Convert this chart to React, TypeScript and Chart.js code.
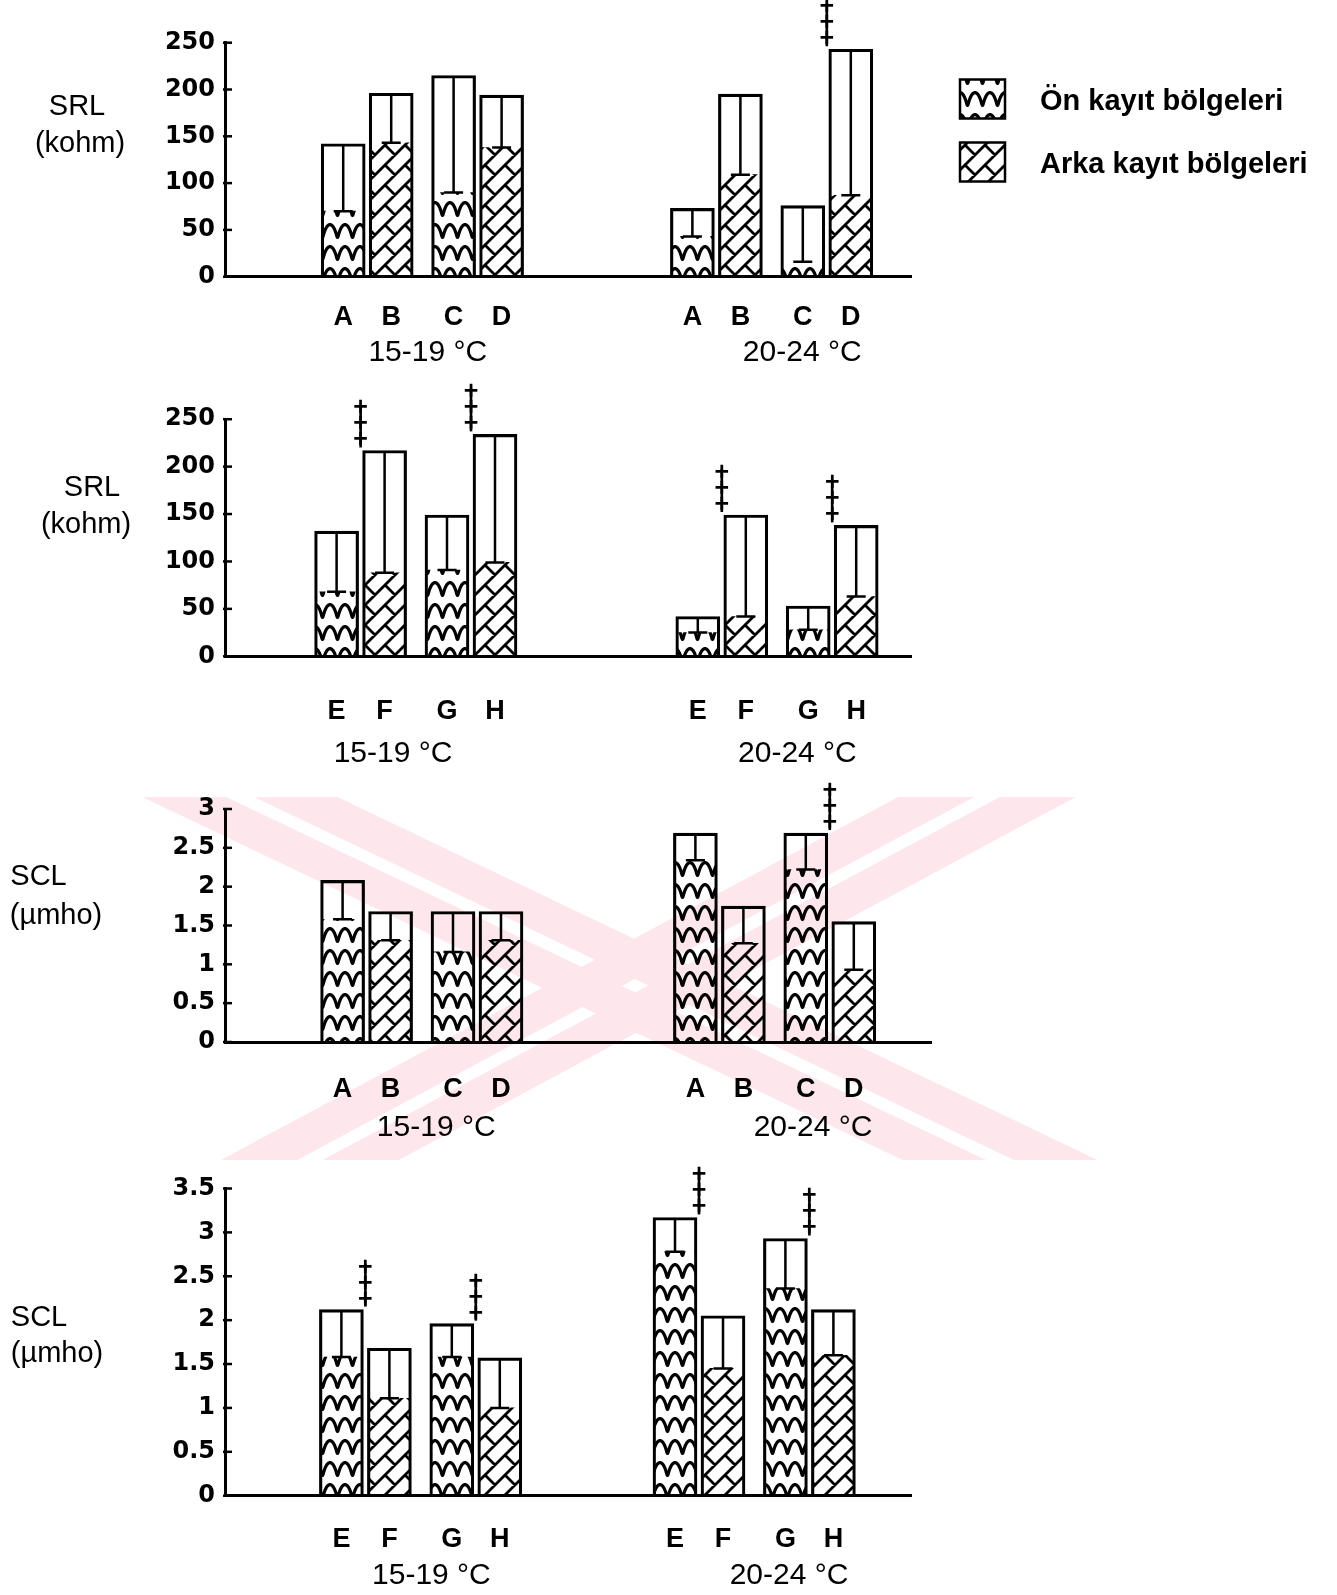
import React, { useEffect, useRef } from 'react';
import { Chart, registerables } from 'chart.js';

Chart.register(...registerables);

// ---- data -------------------------------------------------------------
const lettersAD = ['A', 'B', 'C', 'D'];
const lettersEH = ['E', 'F', 'G', 'H'];
const temperatureGroups = ['15-19 °C', '20-24 °C'];
const legendLabels = ['Ön kayıt bölgeleri', 'Arka kayıt bölgeleri'];

const srlTicks = [0, 50, 100, 150, 200, 250];
const sclTicks3 = [0, 0.5, 1, 1.5, 2, 2.5, 3];
const sclTicks35 = [0, 0.5, 1, 1.5, 2, 2.5, 3, 3.5];

// SRL (kohm), A–D: means and SD per temperature group
const srlAD_1519_mean = [142, 196, 215, 194];
const srlAD_1519_sd = [72, 53, 125, 56];
const srlAD_2024_mean = [73, 195, 76, 243];
const srlAD_2024_sd = [30, 86, 60, 156];
const srlAD_marked = [[], [3]];

// SRL (kohm), E–H
const srlEH_1519_mean = [132, 217, 149, 234];
const srlEH_1519_sd = [64, 129, 58, 135];
const srlEH_2024_mean = [42, 149, 53, 138];
const srlEH_2024_sd = [17, 107, 25, 75];
const srlEH_marked = [[1, 3], [1, 3]];

// SCL (µmho), A–D
const sclAD_1519_mean = [2.08, 1.68, 1.68, 1.68];
const sclAD_1519_sd = [0.5, 0.37, 0.52, 0.37];
const sclAD_2024_mean = [2.69, 1.75, 2.69, 1.55];
const sclAD_2024_sd = [0.35, 0.48, 0.47, 0.62];
const sclAD_marked = [[], [2]];

// SCL (µmho), E–H
const sclEH_1519_mean = [2.12, 1.68, 1.96, 1.57];
const sclEH_1519_sd = [0.54, 0.57, 0.38, 0.57];
const sclEH_2024_mean = [3.17, 2.05, 2.93, 2.12];
const sclEH_2024_sd = [0.39, 0.6, 0.57, 0.52];
const sclEH_marked = [[0, 2], [0, 2]];

// ---- layout -----------------------------------------------------------
const PAGE_W = 1337;
const PAGE_H = 1595;
const AXIS_LEFT = 225;
const SLOT_PX = 12;
const BAR_PX = 44;
const BAR_BORDER = 2.5;
const barOffsets = [0, 4, 9.2, 13.2];

const FONT = '"Liberation Sans", Arial, sans-serif';
const TICK_FONT = '"DejaVu Sans", sans-serif';
const LETTER_SIZE = 27;
const GROUP_SIZE = 30;

type PanelSpec = {
  bandTop: number;
  bandHeight: number;
  plotTop: number;
  plotBottom: number;
  plotRight: number;
  yMax: number;
  yTicks: number[];
  caption: string[];
  captionX: number[];
  captionY: number[];
  letters: string[];
  means: number[][];
  sds: number[][];
  marked: number[][];
  groupStarts: number[];
  groupLabelAt: number[];
  lettersOffset: number;
  groupOffset: number;
  legend?: boolean;
};

const panels: PanelSpec[] = [
  {
    bandTop: 0, bandHeight: 380, plotTop: 42.7, plotBottom: 276.7, plotRight: 911,
    yMax: 250, yTicks: srlTicks,
    caption: ['SRL', '(kohm)'], captionX: [77, 80], captionY: [107, 144],
    letters: lettersAD,
    means: [srlAD_1519_mean, srlAD_2024_mean], sds: [srlAD_1519_sd, srlAD_2024_sd], marked: srlAD_marked,
    groupStarts: [9.85, 38.95], groupLabelAt: [16.9, 48.1],
    lettersOffset: 41, groupOffset: 76, legend: true,
  },
  {
    bandTop: 380, bandHeight: 390, plotTop: 419.2, plotBottom: 656.3, plotRight: 911,
    yMax: 250, yTicks: srlTicks,
    caption: ['SRL', '(kohm)'], captionX: [92, 86], captionY: [488, 525],
    letters: lettersEH,
    means: [srlEH_1519_mean, srlEH_2024_mean], sds: [srlEH_1519_sd, srlEH_2024_sd], marked: srlEH_marked,
    groupStarts: [9.3, 39.4], groupLabelAt: [14.0, 47.7],
    lettersOffset: 55, groupOffset: 97,
  },
  {
    bandTop: 770, bandHeight: 380, plotTop: 809, plotBottom: 1042, plotRight: 931,
    yMax: 3, yTicks: sclTicks3,
    caption: ['SCL', '(µmho)'], captionX: [38.5, 56], captionY: [877, 916],
    letters: lettersAD,
    means: [sclAD_1519_mean, sclAD_2024_mean], sds: [sclAD_1519_sd, sclAD_2024_sd], marked: sclAD_marked,
    groupStarts: [9.8, 39.2], groupLabelAt: [17.6, 49.0],
    lettersOffset: 48, groupOffset: 86,
  },
  {
    bandTop: 1150, bandHeight: 445, plotTop: 1188.5, plotBottom: 1495.7, plotRight: 911,
    yMax: 3.5, yTicks: sclTicks35,
    caption: ['SCL', '(µmho)'], captionX: [39, 57], captionY: [1318, 1354],
    letters: lettersEH,
    means: [sclEH_1519_mean, sclEH_2024_mean], sds: [sclEH_1519_sd, sclEH_2024_sd], marked: sclEH_marked,
    groupStarts: [9.7, 37.5], groupLabelAt: [17.2, 47.0],
    lettersOffset: 44, groupOffset: 80,
  },
];

// ---- background mark (two crossed double stripes) -------------------
const MARK_COLOR = '#fde7ec';
const markArms = [
  { x1: 240, y1: 797, x2: 1000, y2: 1160 },
  { x1: 987, y1: 797, x2: 310, y2: 1160 },
];

function BackgroundMark() {
  const stripes: JSX.Element[] = [];
  markArms.forEach((a, i) => {
    const dx = a.x2 - a.x1;
    const dy = a.y2 - a.y1;
    const len = Math.hypot(dx, dy);
    const nx = -dy / len;
    const ny = dx / len;
    [-24, 24].forEach((off, j) => {
      const ext = 200;
      const ux = dx / len;
      const uy = dy / len;
      stripes.push(
        <line
          key={`${i}-${j}`}
          x1={a.x1 + nx * off - ux * ext}
          y1={a.y1 + ny * off - uy * ext}
          x2={a.x2 + nx * off + ux * ext}
          y2={a.y2 + ny * off + uy * ext}
          stroke={MARK_COLOR}
          strokeWidth={36}
        />
      );
    });
  });
  return (
    <svg width={PAGE_W} height={PAGE_H} style={{ position: 'absolute', left: 0, top: 0 }}>
      <defs>
        <clipPath id="markClip">
          <rect x={140} y={797} width={1000} height={363} />
        </clipPath>
      </defs>
      <g clipPath="url(#markClip)">{stripes}</g>
    </svg>
  );
}

// ---- fill patterns ----------------------------------------------------
function makeWavePattern(ctx: CanvasRenderingContext2D): CanvasPattern {
  const P = 15;
  const R = 22;
  const A = 6.4;
  const c = document.createElement('canvas');
  c.width = P;
  c.height = R;
  const g = c.getContext('2d')!;
  g.strokeStyle = '#000';
  g.lineWidth = 3.2;
  g.lineJoin = 'round';
  for (const dy of [-R, 0, R]) {
    g.beginPath();
    let first = true;
    for (let t = -P; t <= 2 * P; t += 0.25) {
      const th = (2 * Math.PI * t) / P;
      const x = t + 0.1 * P * Math.sin(th);
      const y = R / 2 + dy - A * Math.cos(th);
      if (first) { g.moveTo(x, y); first = false; } else g.lineTo(x, y);
    }
    g.stroke();
  }
  return ctx.createPattern(c, 'repeat')!;
}

function makeBrickPattern(ctx: CanvasRenderingContext2D): CanvasPattern {
  const T = 20;
  const c = document.createElement('canvas');
  c.width = T;
  c.height = T;
  const g = c.getContext('2d')!;
  g.strokeStyle = '#000';
  g.lineWidth = 2.8;
  g.lineCap = 'square';
  g.beginPath();
  for (const k of [-1, 0, 1, 2]) {
    const s = T / 2 + k * T;
    g.moveTo(s + T, -T);
    g.lineTo(s - 2 * T, 2 * T);
  }
  // short joints between neighbouring diagonals
  for (const ox of [-T, 0, T]) {
    for (const oy of [-T, 0, T]) {
      g.moveTo(T / 4 + ox, T / 4 + oy);
      g.lineTo((3 * T) / 4 + ox, (3 * T) / 4 + oy);
    }
  }
  g.stroke();
  return ctx.createPattern(c, 'repeat')!;
}

// ---- chart panel ------------------------------------------------------
function PanelChart({ spec }: { spec: PanelSpec }) {
  const ref = useRef<HTMLCanvasElement>(null);

  useEffect(() => {
    const canvas = ref.current!;
    const ctx = canvas.getContext('2d')!;
    const wave = makeWavePattern(ctx);
    const brick = makeBrickPattern(ctx);

    const xs: number[] = [];
    spec.groupStarts.forEach((g) => barOffsets.forEach((o) => xs.push(g + o)));
    const meanFlat = spec.means.flat();
    const sdFlat = spec.sds.flat();
    const letterFlat = spec.groupStarts.flatMap(() => spec.letters);
    const xMax = (spec.plotRight - AXIS_LEFT) / SLOT_PX;
    const plotTopLocal = spec.plotTop - spec.bandTop;
    const plotBottomLocal = spec.plotBottom - spec.bandTop;
    const lettersAxisH = spec.lettersOffset + 18;
    const groupAxisH = spec.bandHeight - plotBottomLocal - lettersAxisH;

    const extras = {
      id: 'panelExtras',
      afterDatasetsDraw(chart: any) {
        const c = chart.ctx as CanvasRenderingContext2D;
        const yScale = chart.scales.y;
        const meta = chart.getDatasetMeta(0);
        c.save();
        c.strokeStyle = '#000';
        c.lineWidth = 2.5;
        // error bars: from the mean down to mean − SD
        meta.data.forEach((bar: any, i: number) => {
          const yTop = yScale.getPixelForValue(meanFlat[i]);
          const yLow = yScale.getPixelForValue(meanFlat[i] - sdFlat[i]);
          c.beginPath();
          c.moveTo(bar.x, yTop + 1);
          c.lineTo(bar.x, yLow);
          c.moveTo(bar.x - 9.5, yLow);
          c.lineTo(bar.x + 9.5, yLow);
          c.stroke();
        });
        // significance markers between paired bars
        c.fillStyle = '#000';
        c.font = `bold 25px ${FONT}`;
        c.textAlign = 'center';
        c.textBaseline = 'middle';
        spec.marked.forEach((idxs, gi) => {
          idxs.forEach((bi) => {
            const k = gi * 4 + bi;
            const partner = bi % 2 === 0 ? k + 1 : k - 1;
            const bar = meta.data[k];
            const x = (bar.x + meta.data[partner].x) / 2;
            const top = yScale.getPixelForValue(meanFlat[k]);
            c.lineWidth = 2.6;
            c.beginPath();
            c.moveTo(x, top - 46);
            c.lineTo(x, top - 3);
            c.stroke();
            for (let m = 0; m < 3; m++) c.fillText('+', x, top - 10 - 16 * m);
          });
        });
        c.restore();
      },
      afterDraw(chart: any) {
        const c = chart.ctx as CanvasRenderingContext2D;
        const yScale = chart.scales.y;
        const left = chart.chartArea.left;
        c.save();
        c.strokeStyle = '#000';
        c.lineWidth = 2.5;
        // inward tick marks on the value axis
        yScale.ticks.forEach((t: any) => {
          const y = yScale.getPixelForValue(t.value);
          c.beginPath();
          c.moveTo(left - 2, y);
          c.lineTo(left + 7, y);
          c.stroke();
        });
        // axis caption
        c.fillStyle = '#000';
        c.font = `29px ${FONT}`;
        c.textAlign = 'center';
        c.textBaseline = 'middle';
        spec.caption.forEach((line, i) => {
          c.fillText(line, spec.captionX[i], spec.captionY[i] - spec.bandTop);
        });
        // legend
        if (spec.legend) {
          const boxes = [
            { y: 79.5, fill: wave },
            { y: 142.5, fill: brick },
          ];
          boxes.forEach((b, i) => {
            c.fillStyle = b.fill;
            c.fillRect(960, b.y, 45, 39);
            c.lineWidth = 2.5;
            c.strokeRect(960, b.y, 45, 39);
            c.fillStyle = '#000';
            c.font = `bold 29px ${FONT}`;
            c.textAlign = 'left';
            c.fillText(legendLabels[i], 1040, b.y + 22);
          });
        }
        c.restore();
      },
    };

    const chart = new Chart(canvas, {
      type: 'bar',
      data: {
        datasets: [
          {
            label: 'outline',
            data: xs.map((x, i) => ({ x, y: meanFlat[i] })),
            backgroundColor: 'rgba(0,0,0,0)',
            borderColor: '#000',
            borderWidth: BAR_BORDER,
            borderSkipped: 'start',
            barThickness: BAR_PX,
            grouped: false,
            order: 2,
          } as any,
          {
            label: 'fill',
            data: xs.map((x, i) => ({ x, y: meanFlat[i] - sdFlat[i] })),
            backgroundColor: xs.map((_, i) => (i % 2 === 0 ? wave : brick)),
            borderWidth: 0,
            barThickness: BAR_PX - 2 * BAR_BORDER,
            grouped: false,
            order: 1,
          } as any,
        ],
      },
      options: {
        responsive: false,
        animation: false,
        devicePixelRatio: 1,
        events: [],
        layout: {
          padding: { left: 0, top: plotTopLocal, right: PAGE_W - spec.plotRight, bottom: 0 },
        },
        plugins: { legend: { display: false }, tooltip: { enabled: false } },
        scales: {
          x: {
            type: 'linear',
            position: 'bottom',
            weight: 1,
            offset: false,
            min: 0,
            max: xMax,
            afterBuildTicks: (s: any) => { s.ticks = xs.map((v) => ({ value: v })); },
            afterFit: (s: any) => { s.height = lettersAxisH; },
            grid: { display: false, drawTicks: false },
            border: { display: true, color: '#000', width: 3 },
            ticks: {
              autoSkip: false,
              maxRotation: 0,
              color: '#000',
              padding: spec.lettersOffset - 0.6 * LETTER_SIZE,
              font: { family: FONT, size: LETTER_SIZE, weight: 'bold' },
              callback: (_v: any, i: number) => letterFlat[i],
            },
          },
          xGroup: {
            type: 'linear',
            position: 'bottom',
            weight: 2,
            offset: false,
            min: 0,
            max: xMax,
            afterBuildTicks: (s: any) => { s.ticks = spec.groupLabelAt.map((v) => ({ value: v })); },
            afterFit: (s: any) => { s.height = groupAxisH; },
            grid: { display: false, drawTicks: false },
            border: { display: false },
            ticks: {
              autoSkip: false,
              maxRotation: 0,
              color: '#000',
              padding: spec.groupOffset - lettersAxisH - 0.6 * GROUP_SIZE,
              font: { family: FONT, size: GROUP_SIZE },
              callback: (_v: any, i: number) => temperatureGroups[i],
            },
          },
          y: {
            type: 'linear',
            min: 0,
            max: spec.yMax,
            afterBuildTicks: (s: any) => { s.ticks = spec.yTicks.map((v) => ({ value: v })); },
            afterFit: (s: any) => { s.width = AXIS_LEFT; },
            grid: { display: false, drawTicks: false },
            border: { display: true, color: '#000', width: 3 },
            ticks: {
              color: '#000',
              padding: 10,
              font: { family: TICK_FONT, size: 24, weight: 'bold' },
              callback: (v: any) => String(v),
            },
          },
        } as any,
      },
      plugins: [extras],
    });

    return () => chart.destroy();
  }, [spec]);

  return (
    <canvas
      ref={ref}
      width={PAGE_W}
      height={spec.bandHeight}
      style={{ position: 'absolute', left: 0, top: spec.bandTop, width: PAGE_W, height: spec.bandHeight }}
    />
  );
}

export default function App() {
  return (
    <div style={{ position: 'absolute', left: 0, top: 0, width: PAGE_W, height: PAGE_H, background: '#fff', overflow: 'hidden' }}>
      <BackgroundMark />
      {panels.map((p, i) => (
        <PanelChart key={i} spec={p} />
      ))}
    </div>
  );
}
